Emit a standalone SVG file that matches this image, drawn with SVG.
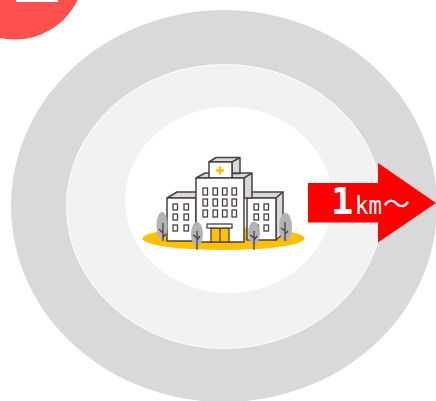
<svg xmlns="http://www.w3.org/2000/svg" width="436" height="401" viewBox="0 0 436 401">
<style>
.b{fill:#fff;stroke:#4a4040;stroke-width:1.5;stroke-linejoin:round}
.s{fill:#d9d9d9;stroke:#4a4040;stroke-width:1.5;stroke-linejoin:round}
.w{fill:#fff;stroke:#4a4040;stroke-width:1.300}
.t{fill:#b3b3b3}
.k{fill:none;stroke:#4a4040;stroke-width:1.300}
.l{fill:#fff;font-family:"DejaVu Sans Mono","Liberation Mono",monospace}
</style>
<rect width="436" height="401" fill="#fff"/>
<g id="zone-outer"><ellipse cx="224" cy="206" rx="213" ry="196" fill="#d9d9d9"/></g>
<g id="zone-middle"><ellipse cx="224.500" cy="206.500" rx="158" ry="142" fill="#f2f2f2" stroke="#fff"/></g>
<g id="zone-inner"><ellipse cx="228.500" cy="200" rx="103.500" ry="93" fill="#fff"/></g>
<g id="badge"><circle cx="15" cy="-30" r="69.500" fill="#ff5050"/><rect x="16" y="-4" width="42" height="6" fill="#fff"/></g>
<g id="hospital">
<ellipse cx="223.500" cy="238.500" rx="81" ry="11.500" fill="#ffc000"/>
<path class="s" d="M167 198l10-6h20v6zM276 198l7-6h-36v6z"/>
<path class="s" d="M276 198l7-6v42l-7 6z"/>
<rect class="b" x="167" y="198" width="29" height="43"/>
<rect class="b" x="247" y="198" width="29" height="42"/>
<path class="s" d="M209 162l7-4.500h24l-8 4.500zM196 178l9-5h5v5zM232 173h20l-8 5h-12zM232 162l8-4.500v16h-8zM244 178l8-5v25h-8z"/>
<rect class="b" x="209" y="162" width="23" height="16"/>
<rect class="b" x="196" y="178" width="48" height="64"/>
<path d="M216 170.500h8M220 166.500v8" stroke="#ffc000" stroke-width="2.500" fill="none"/>
<g id="windows-main">
<rect class="w" x="203" y="188" width="4.500" height="7"/><rect class="w" x="213" y="188" width="4.500" height="7"/><rect class="w" x="222.500" y="188" width="4.500" height="7"/><rect class="w" x="232" y="188" width="4.500" height="7"/>
<rect class="w" x="203" y="199" width="4.500" height="7"/><rect class="w" x="213" y="199" width="4.500" height="7"/><rect class="w" x="222.500" y="199" width="4.500" height="7"/><rect class="w" x="232" y="199" width="4.500" height="7"/>
<rect class="w" x="203" y="210" width="4.500" height="7"/><rect class="w" x="213" y="210" width="4.500" height="7"/><rect class="w" x="222.500" y="210" width="4.500" height="7"/><rect class="w" x="232" y="210" width="4.500" height="7"/>
</g>
<g id="windows-left">
<rect class="w" x="173" y="204" width="4.500" height="6"/><rect class="w" x="184" y="204" width="4.500" height="6"/>
<rect class="w" x="173" y="214" width="4.500" height="6"/><rect class="w" x="184" y="214" width="4.500" height="6"/>
<rect class="w" x="173" y="225" width="4.500" height="6"/><rect class="w" x="184" y="225" width="4.500" height="6"/>
</g>
<g id="windows-right">
<rect class="w" x="254" y="204" width="4.500" height="6"/><rect class="w" x="264" y="204" width="4.500" height="6"/>
<rect class="w" x="254" y="214" width="4.500" height="6"/><rect class="w" x="264" y="214" width="4.500" height="6"/>
<rect class="w" x="254" y="225" width="4.500" height="6"/><rect class="w" x="264" y="225" width="4.500" height="6"/>
</g>
<rect x="211" y="228" width="18" height="14" fill="#ffc000" stroke="#4a4040" stroke-width="1.300"/>
<path class="k" d="M220 228v14"/>
<rect class="w" x="207" y="224" width="25" height="4"/>
<ellipse class="t" cx="162" cy="226" rx="5.500" ry="14"/>
<path class="k" d="M163 223v18M163 233l-4-4M163 237l3-3"/>
<ellipse class="t" cx="197" cy="234" rx="6" ry="12"/>
<path class="k" d="M197 231v19M197 238l-4-3M197 240l3-4"/>
<ellipse class="t" cx="254" cy="233" rx="6" ry="11.500"/>
<path class="k" d="M254 231v19M254 238l-4-3M254 240l3-4"/>
<ellipse class="t" cx="285.500" cy="227" rx="6.500" ry="14"/>
<path class="k" d="M285 222v19M285 231l-4-3M285 234l3-3"/>
</g>
<g id="arrow">
<path d="M308 183h70v-20l58 40-58 39.500v-20h-70z" fill="#ff0000"/>
<text class="l" x="331" y="214" font-size="37" font-weight="700">1</text>
<text class="l" x="355" y="214" font-size="24" textLength="27" lengthAdjust="spacingAndGlyphs">km</text>
<text class="l" x="383" y="214" font-size="27" style="font-family:'Noto Sans CJK JP',sans-serif" font-weight="400">～</text>
</g>
</svg>
